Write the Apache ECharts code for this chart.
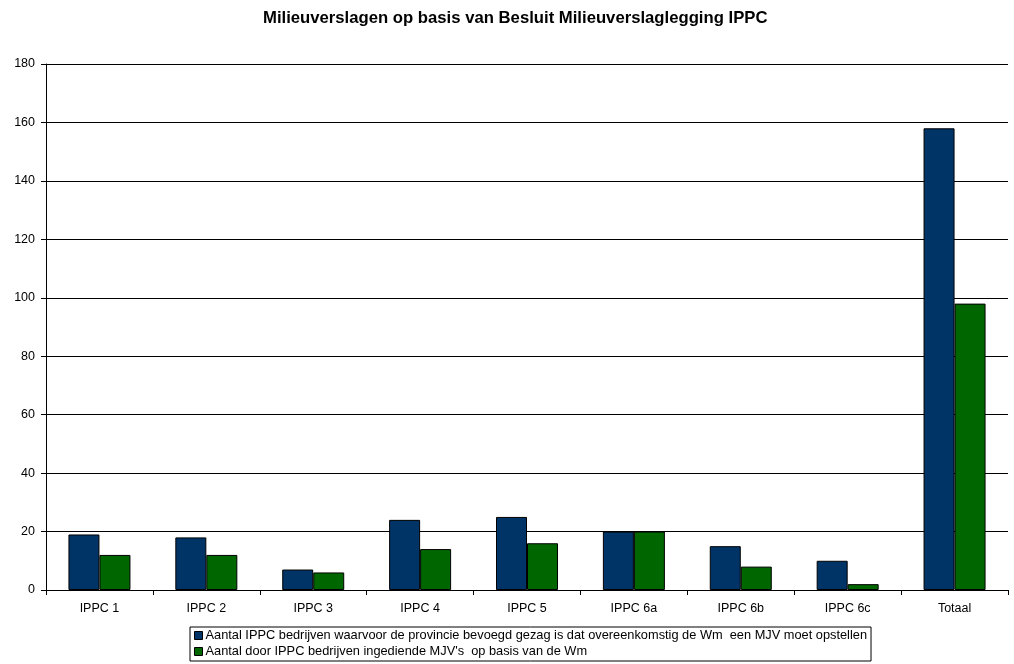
<!DOCTYPE html>
<html><head><meta charset="utf-8">
<script src="https://cdn.jsdelivr.net/npm/echarts@6/dist/echarts.min.js"></script>
<style>html,body{margin:0;padding:0;background:#fff}#c{width:1014px;height:664px}</style>
</head><body><div id="c"></div>
<script>
const categories = ['IPPC 1','IPPC 2','IPPC 3','IPPC 4','IPPC 5','IPPC 6a','IPPC 6b','IPPC 6c','Totaal'];
const seriesNames = ['Aantal IPPC bedrijven waarvoor de provincie bevoegd gezag is dat overeenkomstig de Wm  een MJV moet opstellen',
                     "Aantal door IPPC bedrijven ingediende MJV's  op basis van de Wm"];
const verplicht = [19, 18, 7, 24, 25, 20, 15, 10, 158];
const ingediend = [12, 12, 6, 14, 16, 20, 8, 2, 98];
const colors = ['#003366', '#006600'];

const chart = echarts.init(document.getElementById('c'));
const font = 'Liberation Sans, Arial, sans-serif';
chart.setOption({
  animation: false,
  backgroundColor: '#fff',
  title: {
    text: 'Milieuverslagen op basis van Besluit Milieuverslaglegging IPPC',
    left: 258, top: 5,
    textStyle: {fontFamily: font, fontSize: 16.7, fontWeight: 'bold', color: '#000'}
  },
  grid: {left: 46, right: 6, top: 64, bottom: 74},
  legend: {
    orient: 'vertical', left: 190, top: 627,
    borderColor: '#000', borderWidth: 1, padding: [2, 4, 3, 4],
    itemGap: 3, itemWidth: 8, itemHeight: 8,
    icon: 'rect',
    textStyle: {fontFamily: font, fontSize: 12.8, color: '#000', padding: [0,0,0,-2]},
    data: seriesNames.map((n, i) => ({name: n, itemStyle: {color: colors[i], borderColor: '#000', borderWidth: 1}}))
  },
  xAxis: {
    type: 'category', data: categories,
    axisLine: {lineStyle: {color: '#000'}},
    axisTick: {show: true, alignWithLabel: false, length: 5, lineStyle: {color: '#000'}},
    axisLabel: {fontFamily: font, fontSize: 12.5, color: '#000', margin: 12}
  },
  yAxis: {
    type: 'value', min: 0, max: 180, interval: 20,
    axisLine: {show: true, lineStyle: {color: '#000'}},
    axisTick: {show: true, length: 5, lineStyle: {color: '#000'}},
    axisLabel: {fontFamily: font, fontSize: 12.5, color: '#000', margin: 11},
    splitLine: {lineStyle: {color: '#000', width: 1}}
  },
  series: [
    {name: seriesNames[0], type: 'bar', data: verplicht, barWidth: 31, barGap: '0%',
     itemStyle: {color: colors[0], borderColor: '#000', borderWidth: 1}},
    {name: seriesNames[1], type: 'bar', data: ingediend, barWidth: 31, barGap: '0%',
     itemStyle: {color: colors[1], borderColor: '#000', borderWidth: 1}}
  ]
});
</script></body></html>
